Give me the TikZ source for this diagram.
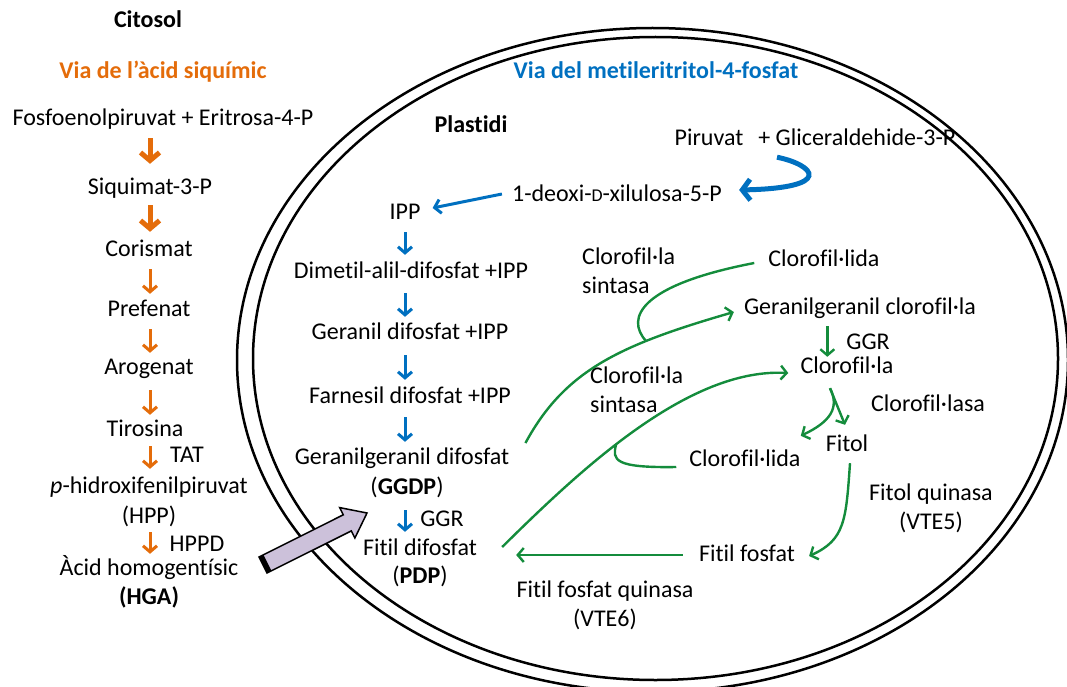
\documentclass[tikz,border=0pt]{standalone}
\usepackage{fontspec}
\setmainfont{Carlito}[Ligatures={NoCommon}]
\usetikzlibrary{arrows.meta,calc}
\definecolor{orng}{RGB}{228,108,10}
\definecolor{blu}{RGB}{0,112,192}
\definecolor{grn}{RGB}{20,140,60}
\definecolor{purp}{RGB}{204,193,218}
\begin{document}
\begin{tikzpicture}[x=1pt,y=-1pt,
  every node/.style={font=\fontsize{24}{29}\selectfont, inner sep=0pt},
  tx/.style={text height=17pt, text depth=5pt},
  ttl/.style={tx, font=\fontsize{24}{29}\selectfont\bfseries},
  oth/.style={draw=orng, line width=5pt, -{Straight Barb[length=8pt,width=19pt]}},
  otn/.style={draw=orng, line width=3pt, -{Straight Barb[length=6pt,width=14pt]}},
  btn/.style={draw=blu, line width=3pt, -{Straight Barb[length=6pt,width=14pt]}},
  bth/.style={draw=blu, line width=5pt, -{Straight Barb[length=8pt,width=21pt]}},
  gln/.style={draw=grn, line width=2.4pt},
  gar/.style={gln, -{Straight Barb[length=6pt,width=14pt]}},
  mem/.style={draw=black, line width=2.5pt}
]
\useasboundingbox (0,0) rectangle (1067,687);

% membranes
\draw[mem] (652.5,360) ellipse [x radius=415.5, y radius=332];
\draw[mem] (655.5,358.5) ellipse [x radius=402.5, y radius=321.5];

% ---- cytosol ----
\node[ttl] (cit) at (148,22) {Citosol};
\node[ttl, text=orng] (via1) at (163,73) {Via de l’àcid siquímic};
\node[tx] (fos) at (163,120) {Fosfoenolpiruvat + Eritrosa-4-P};
\node[tx] (siq) at (150,188) {Siquimat-3-P};
\node[tx] (cor) at (149,250) {Corismat};
\node[tx] (pre) at (149,310) {Prefenat};
\node[tx] (aro) at (149,368) {Arogenat};
\node[tx] (tir) at (145,430) {Tirosina};
\node[tx] (tat) at (187,456) {TAT};
\node[tx] (phid) at (149,487) {\textit{p}-hidroxifenilpiruvat};
\node[tx] (hpp) at (149,517) {(HPP)};
\node[tx] (hppd) at (197,545) {HPPD};
\node[tx] (hga) at (149,569) {Àcid homogentísic};
\node[ttl] (hgab) at (149,598) {(HGA)};

\draw[oth, shorten <=7pt, shorten >=13pt] (fos.south -| siq) -- (siq.north);
\draw[oth, shorten <=6pt, shorten >=7pt] (siq.south) -- (cor.north -| siq);
\draw[otn, shorten <=8pt, shorten >=5pt] (cor.south -| siq) -- (pre.north -| siq);
\draw[otn, shorten <=8pt, shorten >=4pt] (pre.south -| siq) -- (aro.north -| siq);
\draw[otn, shorten <=11pt, shorten >=4pt] (aro.south -| siq) -- (tir.north -| siq);
\draw[otn, shorten <=5pt, shorten >=7pt] (tir.south -| siq) -- (phid.north -| siq);
\draw[otn, shorten <=4pt, shorten >=4pt] (hpp.south -| siq) -- (hga.north -| siq);

% ---- plastid ----
\node[ttl, text=blu] (via2) at (656,73) {Via del metileritritol-4-fosfat};
\node[ttl] (plas) at (471,127) {Plastidi};
\node[tx] (pir) at (815,140) {Piruvat\hspace{15pt}+ Gliceraldehide-3-P};
\node[tx] (dx) at (617,195) {1-deoxi-{\fontsize{18}{20}\selectfont D}-xilulosa-5-P};
\node[tx] (ipp) at (405,213) {IPP};
\node[tx] (dim) at (411,272) {Dimetil-alil-difosfat +IPP};
\node[tx] (ger) at (410,333) {Geranil difosfat +IPP};
\node[tx] (far) at (410,397) {Farnesil difosfat +IPP};
\node[tx] (gg) at (402,458) {Geranilgeranil difosfat};
\node[tx] (ggdp) at (407,488) {(\textbf{GGDP})};
\node[tx] (ggr1) at (442,520) {GGR};
\node[tx] (fd) at (420,549) {Fitil difosfat};
\node[tx] (pdp) at (420,577) {(\textbf{PDP})};

\node[align=left, anchor=west] (cs1) at (582,271) {Clorofil·la\\sintasa};
\node[tx] (clt) at (824,260) {Clorofil·lida};
\node[tx] (ggc) at (860,308) {Geranilgeranil clorofil·la};
\node[tx] (ggr2) at (868,343) {GGR};
\node[tx] (cla) at (847,367) {Clorofil·la};
\node[align=left, anchor=west] (cs2) at (590,390) {Clorofil·la\\sintasa};
\node[tx] (cll) at (928,405) {Clorofil·lasa};
\node[tx] (fit) at (847,445) {Fitol};
\node[tx] (cld) at (745,460) {Clorofil·lida};
\node[align=center] (fq) at (931,508) {Fitol quinasa\\(VTE5)};
\node[tx] (ff) at (747,555) {Fitil fosfat};
\node[align=center] (ffq) at (605,605) {Fitil fosfat quinasa\\(VTE6)};

% blue arrows
\draw[bth] ([xshift=-38pt,yshift=-6pt]pir.south) .. controls (815,165) and (835,188) .. ([xshift=17pt,yshift=5pt]dx.east);
\draw[btn] ([xshift=-10pt,yshift=1pt]dx.west) -- ([xshift=12pt,yshift=5pt]ipp.east);
\draw[btn, shorten <=8pt, shorten >=6pt] (ipp.south) -- (dim.north -| ipp);
\draw[btn, shorten <=10pt, shorten >=5pt] (dim.south -| ipp) -- (ger.north -| ipp);
\draw[btn, shorten <=11pt, shorten >=6pt] (ger.south -| ipp) -- (far.north -| ipp);
\draw[btn, shorten <=9pt, shorten >=5pt] (far.south -| ipp) -- (gg.north -| ipp);
\draw[btn, shorten <=11pt, shorten >=6pt] (ggdp.south -| ipp) -- (fd.north -| ipp);

% green arrows
\draw[gar] ([xshift=16pt,yshift=15pt]gg.east) .. controls (565,370) and (620,345) .. ([xshift=-10pt,yshift=-4pt]ggc.west) coordinate[pos=0.7] (j1);
\draw[gln] ([xshift=-14pt,yshift=-3pt]clt.west) .. controls (640,285) and (625,318) .. (j1);
\draw[gar] ([xshift=25pt,yshift=2pt]fd.east) .. controls (585,465) and (690,368) .. ([xshift=-12pt,yshift=-6pt]cla.west) coordinate[pos=0.42] (j2);
\draw[gln] ([xshift=-13pt,yshift=-7pt]cld.west) .. controls (614,468) and (612,460) .. (j2);
\coordinate (g1) at ([xshift=27pt,yshift=-7pt]ggc.south -| cla.west);
\draw[gar] (g1) -- ([yshift=-1pt]cla.north -| g1);
\coordinate (sp) at ([xshift=-17pt,yshift=-10pt]cla.south);
\draw[gar] (sp) -- ([xshift=-2pt,yshift=9pt]fit.north);
\draw[gar] (sp) .. controls (840,408) and (830,422) .. ([yshift=13pt]cld.north east);
\draw[gar] ([xshift=3pt,yshift=-7pt]fit.south) .. controls (846,520) and (845,540) .. ([xshift=14pt,yshift=-1pt]ff.east);
\draw[gar] ([xshift=-16pt]ff.west) -- ([xshift=39pt]ff.west -| fd.east);

% HGA import arrow
\filldraw[fill=purp, draw=black, line width=1.5pt] (267,573) -- (259,557) -- (343.3,514.8) -- (339.7,507.6) -- (367,513) -- (354.9,538.0) -- (351.3,530.9) -- cycle;
\fill[black] (259,557) -- (267,573) -- (271.5,570.8) -- (263.5,554.8) -- cycle;
\end{tikzpicture}
\end{document}
